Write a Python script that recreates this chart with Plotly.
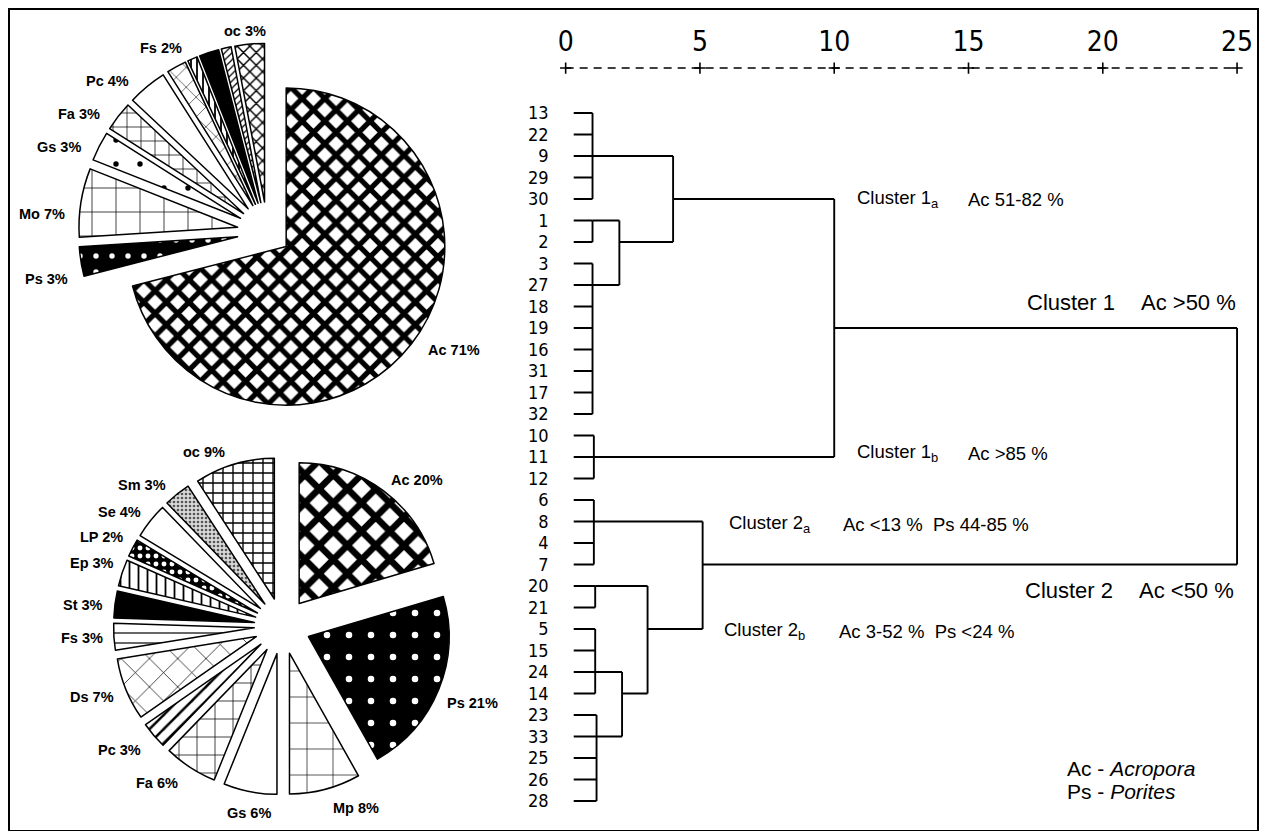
import plotly.graph_objects as go

# browser body has an 8px margin: figure is sized to the remaining viewport
OFF = 8
W, H = 1270 - 2 * OFF, 839 - 2 * OFF

# ---------------- Data ----------------
# upper pie (clockwise from 12 o'clock); "" = unlabelled sliver
top_names = ["Ac", "Ps", "Mo", "Gs", "Fa", "Pc", "Fs", "", "", "", "oc"]
top_values = [71, 3, 7, 3, 3, 4, 2, 1, 2, 1, 3]

# lower pie
bot_names = ["Ac", "Ps", "Mp", "Gs", "Fa", "Pc", "Ds", "Fs", "St", "Ep", "LP", "Se", "Sm", "oc"]
bot_values = [20, 21, 8, 6, 6, 3, 7, 3, 3, 3, 2, 4, 3, 9]

# dendrogram leaves (top to bottom)
leaf_order = ["13", "22", "9", "29", "30", "1", "2", "3", "27", "18", "19", "16", "31", "17",
              "32", "10", "11", "12", "6", "8", "4", "7", "20", "21", "5", "15", "24", "14",
              "23", "33", "25", "26", "28"]
# merges: (node, rescaled distance, children, leaf row where the node's link leaves)
merges = [
    ("a1", 1.0, ["13", "22", "9", "29", "30"], "9"),
    ("a2", 1.0, ["1", "2"], "1"),
    ("a3", 1.0, ["3", "27", "18", "19", "16", "31", "17", "32"], "27"),
    ("a4", 2.0, ["a2", "a3"], "2"),
    ("a5", 4.0, ["a1", "a4"], "30"),
    ("b1", 1.05, ["10", "11", "12"], "11"),
    ("c1", 10.0, ["a5", "b1"], "19"),
    ("d1", 1.05, ["6", "8", "4", "7"], "8"),
    ("e1", 1.1, ["20", "21"], "20"),
    ("e2", 1.1, ["5", "15", "24", "14"], "24"),
    ("e3", 1.15, ["23", "33", "25", "26", "28"], "33"),
    ("e4", 2.1, ["e2", "e3"], "14"),
    ("e5", 3.05, ["e1", "e4"], "5"),
    ("d2", 5.1, ["d1", "e5"], "7"),
    ("root", 25.0, ["c1", "d2"], None),
]
axis_ticks = [0, 5, 10, 15, 20, 25]

# ---------------- Styles / positions ----------------
FONT_LBL = "Liberation Sans, Arial, sans-serif"
FONT_NUM = "DejaVu Sans Condensed, Liberation Sans Narrow, sans-serif"
LEAF_START = 0.3
AXIS_ROW = -2.09


def px(x):
    return (x - OFF) / W


def py(y):
    return 1 - (y - OFF) / H


top_style = dict(
    colors=["white", "black", "white", "white", "white", "white", "white", "white", "black", "white", "white"],
    shape=["x", ".", "+", ".", "+", "", "x", "|", "", "/", "x"],
    fg=["black", "white", "black", "black", "black", "black", "black", "black", "black", "black", "black"],
    bg=["white", "black", "white", "white", "white", "white", "white", "white", "black", "white", "white"],
    size=[16, 16, 24, 24, 14, 10, 14, 6, 10, 5, 9],
    sol=[0.55, 0.09, 0.06, 0.04, 0.1, 0.1, 0.08, 0.3, 0.3, 0.25, 0.3],
    pull=[0.15, 0.19, 0.19, 0.19, 0.19, 0.19, 0.19, 0.19, 0.19, 0.19, 0.19],
)
top_label_pos = [(455, 350), (47, 279), (42, 214), (59, 147), (79, 114), (108, 81), (161, 48),
                 None, None, None, (246, 31)]

bot_style = dict(
    colors=["white", "black", "white", "white", "white", "white", "white", "white", "black", "white",
            "black", "white", "#d9d9d9", "white"],
    shape=["x", ".", "+", "", "+", "/", "x", "-", "", "|", ".", "", ".", "+"],
    fg=["black", "white", "black", "black", "black", "black", "black", "black", "black", "black",
        "white", "black", "#555555", "black"],
    bg=["white", "black", "white", "white", "white", "white", "white", "white", "black", "white",
        "black", "white", "#d9d9d9", "white"],
    size=[20, 22, 26, 10, 18, 10, 20, 10, 10, 9, 8, 10, 4, 10],
    sol=[0.55, 0.07, 0.05, 0.1, 0.08, 0.25, 0.07, 0.12, 0.3, 0.2, 0.3, 0.1, 0.35, 0.25],
    pull=[0.2] * 14,
)
bot_label_pos = [(418, 480), (474, 703), (357, 808), (250, 813), (157, 783), (120, 750), (92, 697),
                 (82, 638), (83, 605), (92, 563), (102, 537), (120, 512), (142, 485), (204, 452)]


def pie_trace(names, values, style, cx, cy, r):
    maxpull = max(style["pull"])
    half = r * (1 + maxpull)
    labels = [n if n else f"_{i}" for i, n in enumerate(names)]
    return go.Pie(
        labels=labels, values=values, sort=False, direction="clockwise", rotation=0,
        pull=style["pull"], textinfo="none", hoverinfo="label+percent", showlegend=False,
        domain=dict(x=[px(cx - half), px(cx + half)], y=[py(cy + half), py(cy - half)]),
        marker=dict(
            colors=style["colors"],
            line=dict(color="black", width=1.5),
            pattern=dict(shape=style["shape"], fgcolor=style["fg"], bgcolor=style["bg"],
                         size=style["size"], solidity=style["sol"], fillmode="replace"),
        ),
    )


fig = go.Figure()
fig.add_trace(pie_trace(top_names, top_values, top_style, 268, 232, 159))
fig.add_trace(pie_trace(bot_names, bot_values, bot_style, 283, 626, 141))

annotations = []
for names, values, poslist in ((top_names, top_values, top_label_pos), (bot_names, bot_values, bot_label_pos)):
    for n, v, pos in zip(names, values, poslist):
        if n and pos:
            annotations.append(dict(x=px(pos[0]), y=py(pos[1]), xref="paper", yref="paper",
                                    xanchor="center", yanchor="middle",
                                    text=f"<b>{n} {v}%</b>", showarrow=False,
                                    font=dict(family=FONT_LBL, size=14.5, color="black")))

# ---------------- Dendrogram ----------------
row = {leaf: i for i, leaf in enumerate(leaf_order)}
exit_row = dict(row)
height = {leaf: LEAF_START for leaf in leaf_order}
xs, ys = [], []
for node, h, children, exit_leaf in merges:
    rows = []
    for c in children:
        r = exit_row[c]
        xs += [height[c], h, None]
        ys += [r, r, None]
        rows.append(r)
    xs += [h, h, None]
    ys += [min(rows), max(rows), None]
    height[node] = h
    if exit_leaf is not None:
        exit_row[node] = row[exit_leaf]

fig.add_trace(go.Scatter(x=xs, y=ys, mode="lines", line=dict(color="black", width=1.9),
                         hoverinfo="skip", showlegend=False))
# dashed scale line with + ticks
fig.add_trace(go.Scatter(x=[axis_ticks[0], axis_ticks[-1]], y=[AXIS_ROW, AXIS_ROW], mode="lines",
                         line=dict(color="black", width=1.5, dash="8px,6px"),
                         hoverinfo="skip", showlegend=False))
fig.add_trace(go.Scatter(x=axis_ticks, y=[AXIS_ROW] * len(axis_ticks), mode="markers",
                         marker=dict(symbol="cross-thin", size=8, line=dict(color="black", width=1.6)),
                         hoverinfo="skip", showlegend=False))

x0_px, unit = 567, (1240 - 567) / 25
xr = [-0.6, 25.5]
y_top_px, y_bot_px, row0, rowstep = 58, 812, 113, 21.5
yr = [(y_bot_px - row0) / rowstep, (y_top_px - row0) / rowstep]

fig.update_layout(
    width=W, height=H, margin=dict(l=0, r=0, t=0, b=0),
    paper_bgcolor="white", plot_bgcolor="white",
    xaxis=dict(domain=[px(x0_px + xr[0] * unit), px(x0_px + xr[1] * unit)], range=xr,
               side="top", tickvals=axis_ticks, ticktext=[str(t) for t in axis_ticks],
               showgrid=False, zeroline=False, showline=False, ticks="",
               tickfont=dict(family=FONT_NUM, size=28, color="black")),
    yaxis=dict(domain=[py(y_bot_px), py(y_top_px)], range=yr,
               tickvals=list(range(len(leaf_order))), ticktext=leaf_order,
               showgrid=False, zeroline=False, showline=False, ticks="",
               tickfont=dict(family=FONT_NUM, size=18, color="black")),
)

# cluster labels
cl_small = dict(family=FONT_LBL, size=18.5, color="black")
cl_big = dict(family=FONT_LBL, size=22, color="black")
cl_key = dict(family=FONT_LBL, size=21, color="black")
cluster_text = [
    ("Cluster 1<sub>a</sub>", 857, 199, cl_small), ("Ac 51-82 %", 968, 199, cl_small),
    ("Cluster 1<sub>b</sub>", 857, 453, cl_small), ("Ac >85 %", 968, 453, cl_small),
    ("Cluster 1", 1027, 302, cl_big), ("Ac >50 %", 1142, 302, cl_big),
    ("Cluster 2", 1025, 590, cl_big), ("Ac <50 %", 1140, 590, cl_big),
    ("Cluster 2<sub>a</sub>", 729, 524, cl_small), ("Ac <13 %  Ps 44-85 %", 843, 524, cl_small),
    ("Cluster 2<sub>b</sub>", 724, 631, cl_small), ("Ac 3-52 %  Ps <24 %", 839, 631, cl_small),
    ("Ac - <i>Acropora</i>", 1068, 768, cl_key),
    ("Ps - <i>Porites</i>", 1068, 791, cl_key),
]
for t, x, y, f in cluster_text:
    annotations.append(dict(x=px(x), y=py(y), xref="paper", yref="paper", text=t, showarrow=False,
                            xanchor="left", yanchor="middle", font=f))

fig.update_layout(annotations=annotations)
fig.add_shape(type="rect", xref="paper", yref="paper", x0=px(9), x1=px(1261), y0=py(831), y1=py(9),
              line=dict(color="black", width=2))

fig.write_html("out.html")
